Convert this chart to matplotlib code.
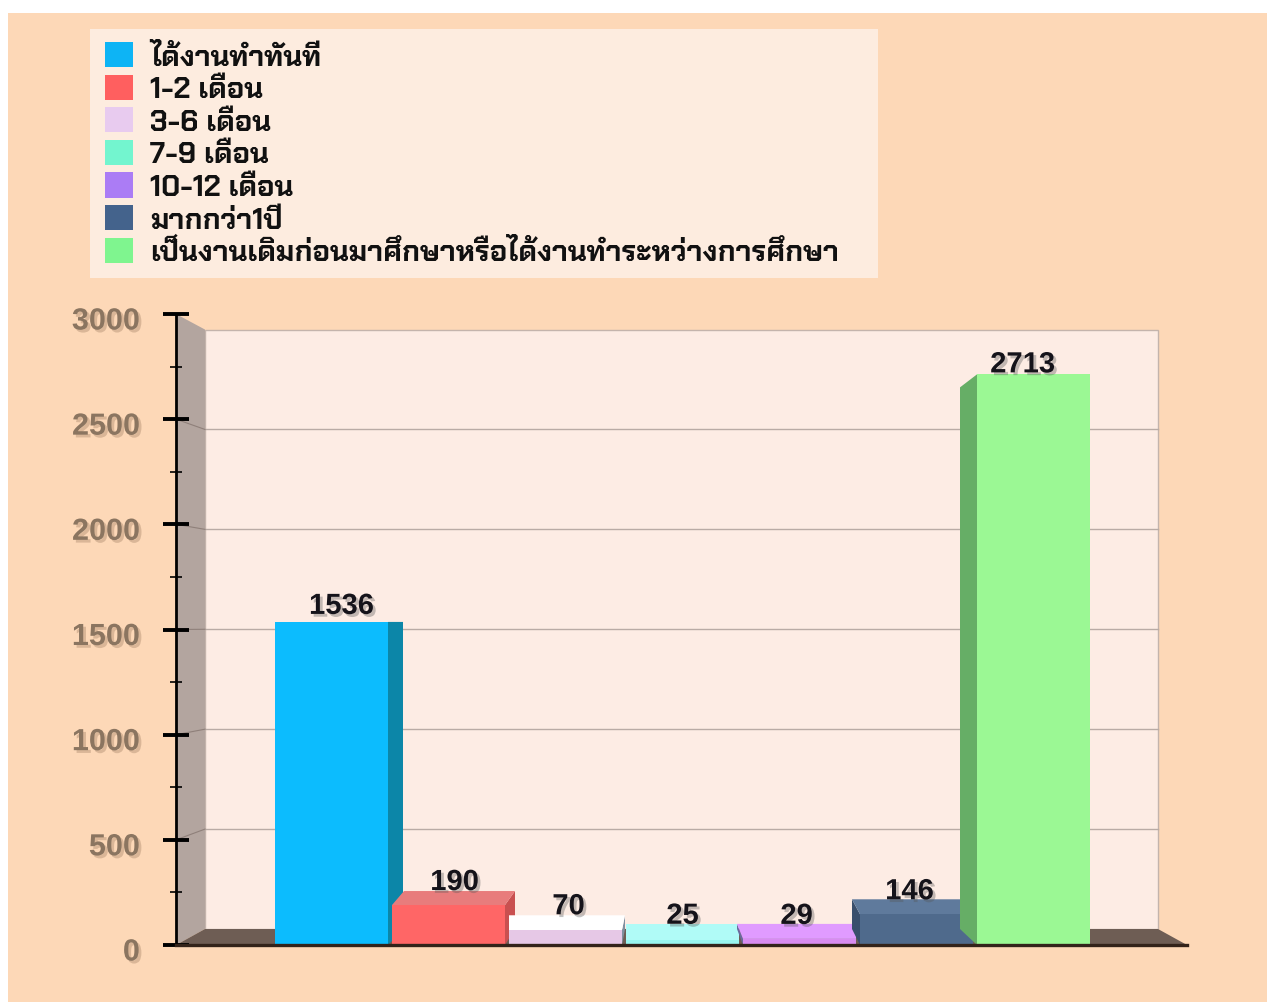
import matplotlib
matplotlib.use('Agg')
import matplotlib.pyplot as plt
from matplotlib.font_manager import FontProperties
from matplotlib.patches import Patch, Rectangle
from matplotlib.ticker import MultipleLocator
from matplotlib.transforms import ScaledTranslation
import matplotlib.patheffects as pe

labels = ['ได้งานทำทันที', '1-2 เดือน', '3-6 เดือน', '7-9 เดือน', '10-12 เดือน', 'มากกว่า1ปี',
          'เป็นงานเดิมก่อนมาศึกษาหรือได้งานทำระหว่างการศึกษา']
values = [1536, 190, 70, 25, 29, 146, 2713]

swatch_colors = ['#0db4f5', '#ff5f5f', '#e8cbef', '#73f5cf', '#ab7cf5', '#44638c', '#7ff58f']
front_colors = ['#0cbcfe', '#ff6666', '#e6c8e6', '#99f5ef', '#d88cf0', '#4f6a8c', '#9bf894']
top_colors = ['#0cbcfe', '#e87c7c', '#ffffff', '#b0fbf7', '#e09bff', '#5f7a9c', '#9bf894']
side_colors = ['#0c86a8', '#c95050', '#7f8f9f', '#99f5ef', '#6a6a9c', '#3a4f6c', '#66ae66']

W, H = 1267, 1003
THAI = ['Chakra Petch', 'IBM Plex Sans Thai', 'Noto Sans Thai', 'DejaVu Sans']

# one pixel in data units
PX_X = 1 / 117
PX_Y = 3000 / 631
DEPTH_X = 29 * PX_X
DEPTH_Y = 16 * PX_Y
BACK_SCALE = 0.95
XMIN = (176 - 331.5) / 117
XMAX = (1187 - 331.5) / 117
BAR_W = 113 / 117

fig = plt.figure(figsize=(W / 100, H / 100), dpi=100, facecolor='white')
fig.add_artist(Rectangle((8 / W, 0), 1 - 8 / W, 1 - 14 / H, transform=fig.transFigure,
                         fc='#fdd8b7', ec='none', zorder=-2))
fig.add_artist(Rectangle((90 / W, 1 - 279 / H), 788 / W, 249 / H, transform=fig.transFigure,
                         fc='#fdecdf', ec='none', zorder=-1))

ax = fig.add_axes([176 / W, 1 - 946 / H, 1011 / W, 631 / H])
ax.patch.set_alpha(0)
ax.set_xlim(XMIN, XMAX)
ax.set_ylim(0, 3000)


def back(v):
    return DEPTH_Y + v * BACK_SCALE


back_l = XMIN + DEPTH_X
back_r = XMAX - DEPTH_X

# walls and floor
ax.fill([back_l, back_r, back_r, back_l], [back(0), back(0), back(3000), back(3000)],
        fc='#fdece4', ec='#c4b4ac', lw=1, zorder=1)
ax.fill([XMIN, back_l, back_l, XMIN], [0, back(0), back(3000), 3000], fc='#b3a59f', ec='none', zorder=1)
ax.fill([XMIN, back_l, back_r, XMAX], [0, back(0), back(0), 0], fc='#6e5d54', ec='none', zorder=1)
for v in range(500, 3000, 500):
    ax.plot([back_l, back_r], [back(v), back(v)], color='#b9aba5', lw=1, zorder=1.5)
    ax.plot([XMIN, back_l], [v, back(v)], color='#8f807a', lw=0.8, zorder=1.5)

# bar geometry: how far the back edge sits from the front edge, in pixels
back_left = [0, 12, 0, 0, -6, -8, -17]
back_right = [15, 10, 3, 0, 0, -12, 0]
back_rise = [0, 14, 15, 16, 15, 15, -13]
floor_rise = [16, 16, 16, 16, 16, 16, 16]
label_dx = [10, 6, 3, 0, -3, -7, -11]
label_dy = [16, 23, 24, 24, 23, 23, 10]

x = list(range(len(values)))
for i in x:
    v = values[i]
    left = i - BAR_W / 2
    right = i + BAR_W / 2
    bl = left + back_left[i] * PX_X
    br = right + back_right[i] * PX_X
    vb = v + back_rise[i] * PX_Y
    floor = floor_rise[i] * PX_Y
    z = 3 + 0.1 * i
    if back_right[i] > 0 and i < 3:
        ax.fill([right, br, br, right], [v, vb, floor, 0], fc=side_colors[i], ec='none', zorder=z)
    if back_left[i] < 0:
        ax.fill([left, bl, bl, left], [v, vb, floor, 0], fc=side_colors[i], ec='none', zorder=z)
    if back_rise[i] > 0:
        ax.fill([left, bl, br, right], [v, vb, vb, v], fc=top_colors[i], ec='none', zorder=z)
    ax.bar(i, v, width=BAR_W, color=front_colors[i], zorder=z + 0.05)
    ax.annotate(str(v), (i, v), xytext=(label_dx[i] * 0.72, label_dy[i] * 0.72),
                textcoords='offset points', ha='center', va='center', fontsize=21,
                fontweight='bold', family='Liberation Sans', color='#15131a', zorder=8,
                path_effects=[pe.SimplePatchShadow(offset=(2, -2), shadow_rgbFace='#555555', alpha=0.35),
                              pe.Normal()])

# axis
for s in ['top', 'right']:
    ax.spines[s].set_visible(False)
ax.spines['left'].set_linewidth(2)
ax.spines['left'].set_color('black')
ax.spines['left'].set_zorder(9)
ax.spines['bottom'].set_linewidth(2.4)
ax.spines['bottom'].set_color('#33231a')
ax.spines['bottom'].set_zorder(9)
ax.set_xticks([])
ax.yaxis.set_major_locator(MultipleLocator(500))
ax.yaxis.set_minor_locator(MultipleLocator(250))
ax.tick_params(axis='y', which='major', direction='inout', length=19, width=2.8, color='black', pad=16.5)
ax.tick_params(axis='y', which='minor', direction='inout', length=8.5, width=1.2, color='black')
shift = ScaledTranslation(0, -4 / 72 * 0.72, fig.dpi_scale_trans)
for lab in ax.get_yticklabels():
    lab.set_fontproperties(FontProperties(family='Liberation Sans', weight='bold', size=22))
    lab.set_color('#8b7560')
    lab.set_transform(lab.get_transform() + shift)
    lab.set_path_effects([pe.SimplePatchShadow(offset=(2, -2), shadow_rgbFace='#8b6a50', alpha=0.3),
                          pe.Normal()])

# legend
handles = [Patch(fc=c, ec='none') for c in swatch_colors]
fig.legend(handles, labels, loc='upper left', bbox_to_anchor=(95 / W, 1 - 33 / H), frameon=False,
           prop=FontProperties(family=THAI, weight='bold', size=21), handlelength=0.96, handleheight=0.96,
           handletextpad=0.58, labelspacing=0.1, borderpad=0.34, borderaxespad=0, labelcolor='#111111')

fig.savefig('out.png', dpi=100)
